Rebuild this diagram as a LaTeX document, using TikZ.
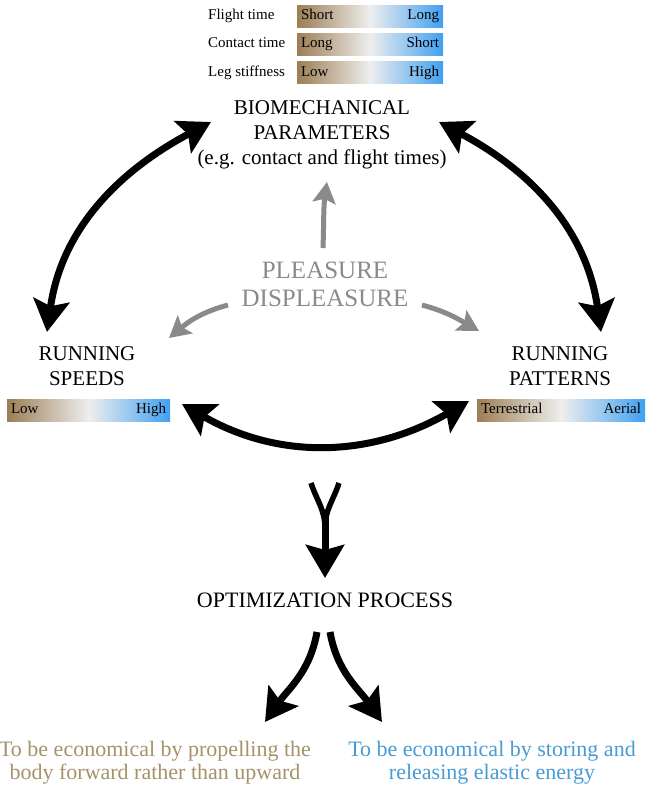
\documentclass[tikz,border=0pt]{standalone}
\usepackage{fontspec}
\setmainfont{Liberation Serif}
\usetikzlibrary{arrows.meta,positioning}

\definecolor{barbrown}{RGB}{156,126,84}
\definecolor{barmid}{RGB}{238,238,238}
\definecolor{barblue}{RGB}{64,160,240}
\definecolor{plgrey}{RGB}{138,138,138}
\definecolor{txtbrown}{RGB}{166,146,106}
\definecolor{txtblue}{RGB}{72,155,212}

\begin{document}
\begin{tikzpicture}[x=1pt, y=1pt,
    big arrow/.style={line width=7pt, -{Stealth[length=32pt,width=36pt,inset=6pt]}},
    big both/.style={line width=7pt, {Stealth[length=32pt,width=36pt,inset=6pt]}-{Stealth[length=32pt,width=36pt,inset=6pt]}},
    grey arrow/.style={plgrey, line width=5pt, -{Stealth[length=21pt,width=23pt,inset=4pt]}},
    main text/.style={align=center, font=\fontsize{21}{25}\selectfont},
    bar/.style={minimum width=146pt, minimum height=22pt, inner sep=0pt,
                left color=barbrown, right color=barblue, middle color=barmid},
    bar label/.style={font=\fontsize{15}{17}\selectfont, inner sep=4pt, text height=10pt, text depth=3pt},
    row label/.style={font=\fontsize{15}{17}\selectfont, inner sep=0pt, anchor=west, text height=10pt, text depth=3pt}]

  \useasboundingbox (0,0) rectangle (650,-787);

  % scales at the top
  \node[bar] (ft) at (370,-16) {};
  \node[bar] (ct) [below=6pt of ft] {};
  \node[bar] (ls) [below=6pt of ct] {};
  \node[row label] (ft-l) at (ft.west -| 208,0) {Flight time};
  \node[row label] (ct-l) at (ct.west -| 208,0) {Contact time};
  \node[row label] (ls-l) at (ls.west -| 208,0) {Leg stiffness};
  \node[bar label, anchor=west] (ft-a) at (ft.west) {Short};
  \node[bar label, anchor=east] (ft-b) at (ft.east) {Long};
  \node[bar label, anchor=west] (ct-a) at (ct.west) {Long};
  \node[bar label, anchor=east] (ct-b) at (ct.east) {Short};
  \node[bar label, anchor=west] (ls-a) at (ls.west) {Low};
  \node[bar label, anchor=east] (ls-b) at (ls.east) {High};

  \node[main text] (bio) at (322,-135) {BIOMECHANICAL\\PARAMETERS\\(e.g. contact and flight times)};
  \node[align=center, text=plgrey, font=\fontsize{25}{28}\selectfont] (pleasure) at (325,-284) {PLEASURE\\DISPLEASURE};
  \node[main text] (speeds) at (87,-366.5) {RUNNING\\SPEEDS};
  \node[main text] (patterns) at (560,-366.5) {RUNNING\\PATTERNS};

  % speed and pattern scales
  \node[bar, minimum width=163pt] (sp) at (88.5,-410) {};
  \node[bar, minimum width=168pt] (pt) at (561,-410) {};
  \node[bar label, anchor=west] (sp-a) at (sp.west) {Low};
  \node[bar label, anchor=east] (sp-b) at (sp.east) {High};
  \node[bar label, anchor=west] (pt-a) at (pt.west) {Terrestrial};
  \node[bar label, anchor=east] (pt-b) at (pt.east) {Aerial};

  \node[font=\fontsize{22}{25}\selectfont] (optim) at (325,-600) {OPTIMIZATION PROCESS};
  \node[align=center, text=txtbrown, font=\fontsize{22}{23}\selectfont] (econ-a) at (155,-763) {To be economical by propelling the\\body forward rather than upward};
  \node[align=center, text=txtblue, font=\fontsize{22}{23}\selectfont] (econ-b) at (492,-763) {To be economical by storing and\\releasing elastic energy};

  % arrow ends
  \coordinate (bio-w) at (211,-122);
  \coordinate (bio-e) at (439,-122);
  \coordinate (bio-s) at (327,-182);
  \coordinate (speeds-n) at (47,-332);
  \coordinate (speeds-ne) at (169,-338);
  \coordinate (speeds-e) at (182,-404);
  \coordinate (patterns-n) at (601,-332);
  \coordinate (patterns-nw) at (479,-331);
  \coordinate (patterns-w) at (469,-401);
  \coordinate (pl-n) at (323,-248);
  \coordinate (pl-w) at (228,-305);
  \coordinate (pl-e) at (422,-305);
  \coordinate (mg-l) at (311,-483);
  \coordinate (mg-r) at (339,-483);
  \coordinate (mg-c) at (325,-522);
  \coordinate (optim-n) at (325,-578);
  \coordinate (optim-l) at (317,-632);
  \coordinate (optim-r) at (330,-632);
  \coordinate (econ-a-n) at (265,-722);
  \coordinate (econ-b-n) at (382,-722);

  % black cycle
  \draw[big both] (speeds-n) to[out=82,in=208] (bio-w);
  \draw[big both] (bio-e) to[out=-28,in=98] (patterns-n);
  \draw[big both] (speeds-e) to[out=-30,in=210] (patterns-w);

  % grey arrows
  \draw[grey arrow] (pl-n) to[out=88,in=-98] (bio-s);
  \draw[grey arrow] (pl-w) to[out=195,in=40] (speeds-ne);
  \draw[grey arrow] (pl-e) to[out=-15,in=150] (patterns-nw);

  % merge into optimization
  \draw[line width=5.5pt] (mg-l) to[out=-72,in=90] ([yshift=-6pt]mg-c);
  \draw[line width=5.5pt] (mg-r) to[out=-108,in=90] ([yshift=-6pt]mg-c);
  \draw[line width=7pt, -{Stealth[length=33pt,width=38pt,inset=5pt]}] ([yshift=4pt]mg-c) -- (optim-n);

  % split to the two strategies
  \draw[big arrow] (optim-l) to[out=-100,in=55] (econ-a-n);
  \draw[big arrow] (optim-r) to[out=-80,in=125] (econ-b-n);
\end{tikzpicture}
\end{document}
